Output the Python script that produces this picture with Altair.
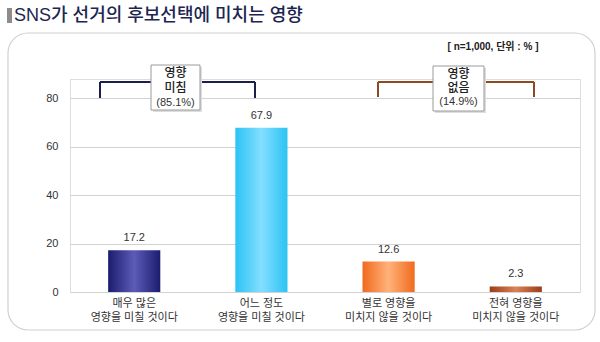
import altair as alt
import pandas as pd

# ---- data ----
categories = ["매우 많은|영향을 미칠 것이다", "어느 정도|영향을 미칠 것이다",
              "별로 영향을|미치지 않을 것이다", "전혀 영향을|미치지 않을 것이다"]
values = [17.2, 67.9, 12.6, 2.3]
value_labels = ["17.2", "67.9", "12.6", "2.3"]
y_ticks = [0, 20, 40, 60, 80]
edge_colors = ["#1b1b6e", "#2bc3f4", "#f06a1c", "#9a3d18"]
center_colors = ["#5c5cb8", "#84deff", "#ffb27a", "#da8258"]
group_titles = [["영향", "미침"], ["영향", "없음"]]
group_shares = ["(85.1%)", "(14.9%)"]
title_text = "SNS가 선거의 후보선택에 미치는 영향"
note_text = "[ n=1,000, 단위 : % ]"

FONT = "Liberation Sans, Noto Sans CJK KR"

df = pd.DataFrame({"cat": categories, "value": values, "label": value_labels,
                   "idx": list(range(len(categories)))})

xenc = alt.X("cat:N", sort=categories,
             scale=alt.Scale(domain=categories, paddingInner=0.59, paddingOuter=0.3),
             axis=alt.Axis(title=None, labelAngle=0, domain=False, ticks=False,
                           labelPadding=5, labelFontSize=11, labelLineHeight=14,
                           labelColor="#333333", labelFont=FONT,
                           labelExpr="split(datum.label, '|')"))
yenc = alt.Y("value:Q", scale=alt.Scale(domain=[0, 88], nice=False),
             axis=alt.Axis(title=None, values=y_ticks, domain=False, ticks=False,
                           labelPadding=12, labelFontSize=11, labelColor="#333333",
                           labelFont=FONT, gridColor="#d2d2d2", gridWidth=1))

base = alt.Chart(df).encode(x=xenc, y=yenc)

one = alt.Data(values=[{"a": 1}])

layers = []

# panel border
layers.append(alt.Chart(one).mark_rect(fill="white", fillOpacity=0, stroke="#d0d0d0",
                                       strokeWidth=1.2, cornerRadius=20).encode(
    x=alt.value(-62), x2=alt.value(525), y=alt.value(-46), y2=alt.value(251)))

# bars with gradients
for i in range(len(categories)):
    grad = alt.Gradient(gradient="linear", x1=0, x2=1, y1=0, y2=0,
                        stops=[alt.GradientStop(color=edge_colors[i], offset=0),
                               alt.GradientStop(color=center_colors[i], offset=0.5),
                               alt.GradientStop(color=edge_colors[i], offset=1)])
    layers.append(base.transform_filter(alt.datum.idx == i).mark_bar(color=grad))

# value labels
layers.append(base.mark_text(dy=-12, fontSize=11, color="#333333", font=FONT,
                             baseline="middle").encode(text="label:N"))

# brackets
br = [(30, 185, 3, 19, "#1a1f4e"), (308, 464, 3, 18, "#8b4a22")]
for (xa, xb, yt, yb, col) in br:
    layers.append(alt.Chart(one).mark_rule(color=col, strokeWidth=2).encode(
        x=alt.value(xa), x2=alt.value(xb), y=alt.value(yt)))
    layers.append(alt.Chart(one).mark_rule(color=col, strokeWidth=2).encode(
        x=alt.value(xa), y=alt.value(yt), y2=alt.value(yb)))
    layers.append(alt.Chart(one).mark_rule(color=col, strokeWidth=2).encode(
        x=alt.value(xb), y=alt.value(yt), y2=alt.value(yb)))

# boxes
boxes = [(81, 130, -14, 31, 105.5, [-6, 9, 24]), (363, 414, -13, 32, 388.5, [-5, 9, 23])]
for k, (xa, xb, ya, yb, xc, ys) in enumerate(boxes):
    layers.append(alt.Chart(one).mark_rect(fill="#dddddd").encode(
        x=alt.value(xa + 2), x2=alt.value(xb + 2), y=alt.value(ya + 2), y2=alt.value(yb + 2)))
    layers.append(alt.Chart(one).mark_rect(fill="white", stroke="#9a9a9a", strokeWidth=1).encode(
        x=alt.value(xa), x2=alt.value(xb), y=alt.value(ya), y2=alt.value(yb)))
    for j in range(2):
        layers.append(alt.Chart(one).mark_text(fontSize=12, fontWeight=500, color="#222222",
                                               font=FONT, baseline="middle").encode(
            x=alt.value(xc), y=alt.value(ys[j]), text=alt.value(group_titles[k][j])))
    layers.append(alt.Chart(one).mark_text(fontSize=11, color="#333333",
                                           font=FONT, baseline="middle").encode(
        x=alt.value(xc), y=alt.value(ys[2]), text=alt.value(group_shares[k])))

# title + marker
layers.append(alt.Chart(one).mark_rect(fill="#8c8c8c").encode(
    x=alt.value(-63), x2=alt.value(-58), y=alt.value(-71), y2=alt.value(-56)))
layers.append(alt.Chart(one).mark_text(fontSize=18, fontWeight=500, color="#1c2650", font=FONT,
                                       align="left", baseline="middle").encode(
    x=alt.value(-56), y=alt.value(-63), text=alt.value(title_text)))
layers.append(alt.Chart(one).mark_text(fontSize=10, fontWeight="bold", color="#222222",
                                       font=FONT, align="center", baseline="middle").encode(
    x=alt.value(423), y=alt.value(-32), text=alt.value(note_text)))

chart = alt.layer(*layers).properties(
    width=510, height=213,
    autosize=alt.AutoSizeParams(type="none"),
    padding={"left": 70, "top": 79, "right": 20, "bottom": 50},
).configure_view(stroke=None).configure(background="white")

chart.save("out.html", embed_options={"renderer": "svg", "actions": False})
